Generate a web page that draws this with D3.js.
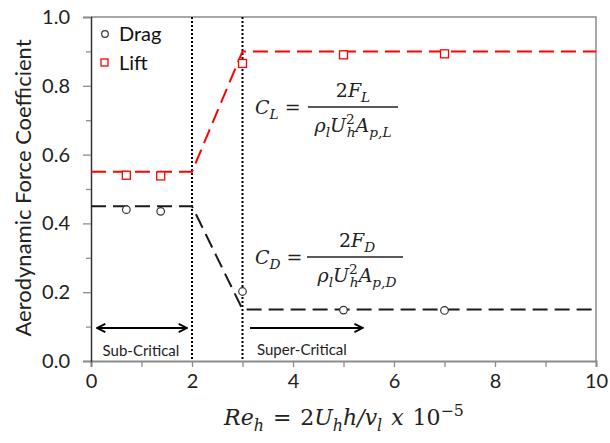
<!DOCTYPE html>
<html>
<head>
<meta charset="utf-8">
<script src="https://cdn.jsdelivr.net/npm/d3@7"></script>
<style>
  html, body { margin: 0; padding: 0; background: #fff; }
  svg { display: block; }
</style>
</head>
<body>
<svg id="chart" width="610" height="443"></svg>
<script>
// Measured coefficients at each Reynolds number (x 10^-5)
const reValues   = [0.7, 1.38, 3.0, 5.0, 7.0];
const dragValues = [0.44, 0.435, 0.202, 0.148, 0.147];
const liftValues = [0.54, 0.538, 0.865, 0.89, 0.893];

// Idealised regime trends (sub-critical plateau, transition, super-critical plateau)
const trendRe   = [0, 2, 3, 10];
const dragTrend = [0.45, 0.45, 0.15, 0.15];
const liftTrend = [0.55, 0.55, 0.90, 0.90];

// Regime boundaries
const regimeBounds = [2, 3];

// Axis ticks
const xTicks = [0, 2, 4, 6, 8, 10];
const xMinorTicks = [1, 3, 5, 7, 9];
const yTicks = [0, 0.2, 0.4, 0.6, 0.8, 1.0];
const yMinorTicks = [0.1, 0.3, 0.5, 0.7, 0.9];

const uiFont = "Lato, 'Open Sans', sans-serif";
const mathFont = "'DejaVu Serif', 'Liberation Serif', serif";

const svg = d3.select("#chart");
const x = d3.scaleLinear().domain([0, 10]).range([91, 596]);
const y = d3.scaleLinear().domain([0, 1]).range([361, 17]);

const defs = svg.append("defs");
defs.append("marker").attr("id", "arrEnd")
  .attr("viewBox", "0 0 12 12").attr("refX", 11).attr("refY", 6)
  .attr("markerWidth", 11).attr("markerHeight", 11).attr("markerUnits", "userSpaceOnUse")
  .attr("orient", "auto")
  .append("path").attr("d", "M2,1.5 L11,6 L2,10.5").attr("fill", "none")
  .attr("stroke", "#000").attr("stroke-width", 2);
defs.append("marker").attr("id", "arrStart")
  .attr("viewBox", "0 0 12 12").attr("refX", 1).attr("refY", 6)
  .attr("markerWidth", 11).attr("markerHeight", 11).attr("markerUnits", "userSpaceOnUse")
  .attr("orient", "auto")
  .append("path").attr("d", "M10,1.5 L1,6 L10,10.5").attr("fill", "none")
  .attr("stroke", "#000").attr("stroke-width", 2);

// Plot frame (top and right)
svg.append("path")
  .attr("d", `M${x(0)},${y(1)} H${x(10)} V${y(0)}`)
  .attr("fill", "none").attr("stroke", "#8c8c8c").attr("stroke-width", 1.5);

// X axis
const xAxis = svg.append("g").attr("transform", `translate(0,${y(0)})`)
  .call(d3.axisBottom(x).tickValues(xTicks).tickFormat(d3.format("d")).tickSize(6).tickPadding(7));
svg.append("g").attr("transform", `translate(0,${y(0)})`)
  .call(d3.axisBottom(x).tickValues(xMinorTicks).tickFormat("").tickSize(6))
  .select(".domain").remove();

// Y axis
const yAxis = svg.append("g").attr("transform", `translate(${x(0)},0)`)
  .call(d3.axisLeft(y).tickValues(yTicks).tickFormat(d3.format(".1f")).tickSize(8).tickPadding(13));
svg.append("g").attr("transform", `translate(${x(0)},0)`)
  .call(d3.axisLeft(y).tickValues(yMinorTicks).tickFormat("").tickSize(5))
  .select(".domain").remove();

svg.selectAll(".tick line").attr("stroke", "#8c8c8c").attr("stroke-width", 1.3);
xAxis.select(".domain").attr("stroke", "#8c8c8c").attr("stroke-width", 2);
yAxis.select(".domain").attr("stroke", "#333").attr("stroke-width", 1.5);
svg.selectAll(".tick text").attr("font-family", uiFont).attr("font-size", 20).attr("fill", "#222");

// Regime boundaries
svg.append("g").selectAll("line").data(regimeBounds).join("line")
  .attr("x1", d => x(d)).attr("x2", d => x(d))
  .attr("y1", y(1)).attr("y2", y(0))
  .attr("stroke", "#000").attr("stroke-width", 2).attr("stroke-dasharray", "2,2");

// Trend lines
const line = d3.line().x(d => x(d[0])).y(d => y(d[1]));
svg.append("path").datum(d3.zip(trendRe, liftTrend))
  .attr("d", line).attr("fill", "none").attr("stroke", "#ff0000")
  .attr("stroke-width", 2).attr("stroke-dasharray", "15,7");
svg.append("path").datum(d3.zip(trendRe, dragTrend))
  .attr("d", line).attr("fill", "none").attr("stroke", "#1a1a1a")
  .attr("stroke-width", 2).attr("stroke-dasharray", "15,7");

// Data points
svg.append("g").selectAll("circle").data(d3.zip(reValues, dragValues)).join("circle")
  .attr("cx", d => x(d[0])).attr("cy", d => y(d[1])).attr("r", 3.8)
  .attr("fill", "#fff").attr("stroke", "#333").attr("stroke-width", 1.2);
svg.append("g").selectAll("rect").data(d3.zip(reValues, liftValues)).join("rect")
  .attr("x", d => x(d[0]) - 4).attr("y", d => y(d[1]) - 4)
  .attr("width", 8).attr("height", 8)
  .attr("fill", "#fff").attr("stroke", "#ff0000").attr("stroke-width", 1.3);

// Legend
const legend = svg.append("g").attr("font-family", uiFont).attr("font-size", 20).attr("fill", "#111");
legend.append("circle").attr("cx", 105).attr("cy", 34).attr("r", 3.3)
  .attr("fill", "#fff").attr("stroke", "#333").attr("stroke-width", 1.2);
legend.append("text").attr("x", 119).attr("y", 41).text("Drag");
legend.append("rect").attr("x", 101).attr("y", 59).attr("width", 7).attr("height", 7)
  .attr("fill", "#fff").attr("stroke", "#ff0000").attr("stroke-width", 1.3);
legend.append("text").attr("x", 119).attr("y", 70).text("Lift");

// Regime arrows and labels
const arrowY = 0.096;
svg.append("line").attr("x1", x(0.12)).attr("x2", x(1.9)).attr("y1", y(arrowY)).attr("y2", y(arrowY))
  .attr("stroke", "#000").attr("stroke-width", 2)
  .attr("marker-start", "url(#arrStart)").attr("marker-end", "url(#arrEnd)");
svg.append("line").attr("x1", x(3.15)).attr("x2", x(5.38)).attr("y1", y(arrowY)).attr("y2", y(arrowY))
  .attr("stroke", "#000").attr("stroke-width", 2)
  .attr("marker-end", "url(#arrEnd)");
svg.append("text").attr("x", x(0.99)).attr("y", 356).attr("text-anchor", "middle")
  .attr("font-family", uiFont).attr("font-size", 15).attr("fill", "#222").text("Sub-Critical");
svg.append("text").attr("x", 257).attr("y", 355)
  .attr("font-family", uiFont).attr("font-size", 15).attr("fill", "#222").text("Super-Critical");

// Axis titles
svg.append("text").attr("transform", `translate(31,${(y(0) + y(1)) / 2 - 1}) rotate(-90)`)
  .attr("text-anchor", "middle").attr("font-family", uiFont).attr("font-size", 22)
  .attr("fill", "#222").text("Aerodynamic Force Coefficient");

// Inline math: each part sits on the baseline, as a subscript or as a superscript
function mathText(g, xPos, yPos, parts, anchor, size) {
  size = size || 19;
  const levelShift = { base: 0, sub: size * 0.27, sup: -size * 0.42 };
  const t = g.append("text").attr("x", xPos).attr("y", yPos)
    .attr("font-family", mathFont).attr("font-size", size).attr("fill", "#222")
    .attr("text-anchor", anchor || "start");
  let cur = 0;
  parts.forEach(p => {
    const lvl = p.sub ? "sub" : p.sup ? "sup" : "base";
    const s = t.append("tspan").text(p.t);
    if (p.i) s.attr("font-style", "italic");
    if (lvl !== "base") s.attr("font-size", size * 0.72);
    const dy = levelShift[lvl] - cur;
    if (dy) s.attr("dy", dy);
    cur = levelShift[lvl];
    if (p.dx) s.attr("dx", p.dx);
  });
  return t;
}

const xt = svg.append("g").attr("word-spacing", 2);
mathText(xt, 344, 425, [
  {t: "Re", i: 1}, {t: "h", i: 1, sub: 1}, {t: " = 2"},
  {t: "U", i: 1}, {t: "h", i: 1, sub: 1}, {t: "h/v", i: 1}, {t: "l", i: 1, sub: 1},
  {t: " x ", i: 1}, {t: "10"}, {t: "−5", sup: 1}
], "middle", 22);

// Coefficient definitions
function coefEq(sym, cx, baseY, lineL, lineR) {
  const g = svg.append("g");
  mathText(g, 255, baseY, [{t: "C", i: 1}, {t: sym, i: 1, sub: 1}, {t: " ="}]);
  g.append("line").attr("x1", lineL).attr("x2", lineR).attr("y1", baseY - 7).attr("y2", baseY - 7)
    .attr("stroke", "#222").attr("stroke-width", 1.6);
  mathText(g, cx, baseY - 17, [{t: "2"}, {t: "F", i: 1}, {t: sym, i: 1, sub: 1}], "middle");
  mathText(g, cx, baseY + 18, [
    {t: "ρ", i: 1}, {t: "l", i: 1, sub: 1},
    {t: "U", i: 1}, {t: "2", sup: 1}, {t: "h", i: 1, sub: 1, dx: -8},
    {t: "A", i: 1}, {t: "p,", i: 1, sub: 1}, {t: sym, i: 1, sub: 1}
  ], "middle");
}
coefEq("L", 353, 114, 308, 398);
coefEq("D", 357, 264, 307, 403);
</script>
</body>
</html>
